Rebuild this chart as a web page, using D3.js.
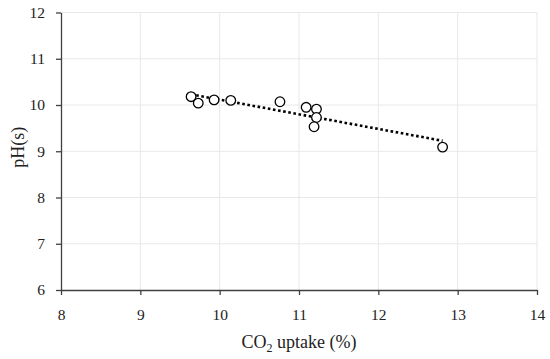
<!DOCTYPE html>
<html>
<head>
<meta charset="utf-8">
<script src="https://cdn.jsdelivr.net/npm/d3@7"></script>
<style>
  body { margin: 0; background: #fff; }
</style>
</head>
<body>
<script>
// CO2 uptake (%) and pH(s)
var co2Uptake = [9.64, 9.73, 9.93, 10.14, 10.76, 11.09, 11.22, 11.22, 11.19, 12.81];
var phValues  = [10.18, 10.04, 10.11, 10.10, 10.07, 9.95, 9.91, 9.73, 9.53, 9.09];
var xTicks = [8, 9, 10, 11, 12, 13, 14];
var yTicks = [6, 7, 8, 9, 10, 11, 12];

var serif = "'Liberation Serif', 'DejaVu Serif', serif";
var width = 550, height = 359;
var margin = { top: 12.5, right: 13, bottom: 69, left: 61 };
var chartWidth = width - margin.left - margin.right,
    chartHeight = height - margin.top - margin.bottom;

var svg = d3.select("body").append("svg")
    .attr("width", width)
    .attr("height", height)
  .append("g")
    .attr("transform", "translate(" + margin.left + "," + margin.top + ")");

var xScale = d3.scaleLinear().domain([8, 14]).range([0, chartWidth]);
var yScale = d3.scaleLinear().domain([6, 12]).range([chartHeight, 0]);

// gridlines
svg.selectAll(".hgrid").data(yTicks.slice(1)).enter().append("line")
    .attr("x1", 0).attr("x2", chartWidth)
    .attr("y1", function(d) { return yScale(d); })
    .attr("y2", function(d) { return yScale(d); })
    .attr("stroke", "#e8e8e8").attr("stroke-width", 1);
svg.selectAll(".vgrid").data(xTicks.slice(1)).enter().append("line")
    .attr("y1", 0).attr("y2", chartHeight)
    .attr("x1", function(d) { return xScale(d); })
    .attr("x2", function(d) { return xScale(d); })
    .attr("stroke", "#e8e8e8").attr("stroke-width", 1);

// axes
var xAxis = svg.append("g")
    .attr("transform", "translate(0," + chartHeight + ")")
    .call(d3.axisBottom(xScale).tickValues(xTicks).tickFormat(d3.format("d"))
        .tickSize(5).tickSizeOuter(0).tickPadding(14));
var yAxis = svg.append("g")
    .call(d3.axisLeft(yScale).tickValues(yTicks).tickFormat(d3.format("d"))
        .tickSize(5).tickSizeOuter(0).tickPadding(11));

[xAxis, yAxis].forEach(function(ax) {
    ax.attr("font-family", serif).attr("font-size", 15.5);
    ax.select(".domain").attr("stroke", "#404040").attr("stroke-width", 1.3);
    ax.selectAll(".tick line").attr("stroke", "#404040").attr("stroke-width", 1.3);
    ax.selectAll(".tick text").attr("fill", "#222");
});

// linear trend line (least squares on the data)
var pts = co2Uptake.map(function(x, i) { return { x: x, y: phValues[i] }; });
var mx = d3.mean(pts, function(d) { return d.x; });
var my = d3.mean(pts, function(d) { return d.y; });
var slope = d3.sum(pts, function(d) { return (d.x - mx) * (d.y - my); }) /
            d3.sum(pts, function(d) { return (d.x - mx) * (d.x - mx); });
var xExt = d3.extent(pts, function(d) { return d.x; });
var trend = xExt.map(function(x) { return { x: x, y: my + slope * (x - mx) }; });

svg.append("path")
    .datum(trend)
    .attr("fill", "none")
    .attr("stroke", "#000")
    .attr("stroke-width", 2.6)
    .attr("stroke-dasharray", "2.6,2.6")
    .attr("d", d3.line()
        .x(function(d) { return xScale(d.x); })
        .y(function(d) { return yScale(d.y); }));

// points
svg.selectAll(".pt").data(pts).enter().append("circle")
    .attr("cx", function(d) { return xScale(d.x); })
    .attr("cy", function(d) { return yScale(d.y); })
    .attr("r", 4.8)
    .attr("fill", "#fff")
    .attr("stroke", "#000")
    .attr("stroke-width", 1.3);

// axis titles
var xTitle = svg.append("text")
    .attr("x", chartWidth / 2)
    .attr("y", chartHeight + 58)
    .attr("text-anchor", "middle")
    .attr("font-family", serif)
    .attr("font-size", 18)
    .attr("fill", "#222");
xTitle.append("tspan").text("CO");
xTitle.append("tspan").attr("dy", 4).attr("font-size", 12).text("2");
xTitle.append("tspan").attr("dy", -4).text(" uptake (%)");

svg.append("text")
    .attr("transform", "rotate(-90)")
    .attr("x", -(yScale(9) - 4))
    .attr("y", -margin.left + 24)
    .attr("text-anchor", "middle")
    .attr("font-family", serif)
    .attr("font-size", 18)
    .attr("fill", "#222")
    .text("pH(s)");
</script>
</body>
</html>
